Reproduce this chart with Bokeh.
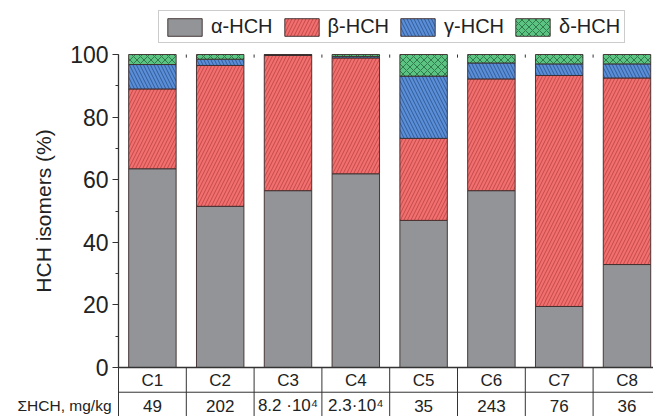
from bokeh.plotting import figure
from bokeh.models import (ColumnDataSource, LinearAxis, SingleIntervalTicker, Range1d)
from bokeh.embed import file_html
from bokeh.resources import INLINE
from bokeh.core.properties import value

# ---- data ----
categories = ["C1", "C2", "C3", "C4", "C5", "C6", "C7", "C8"]
alpha = [63.5, 51.5, 56.5, 61.9, 47.0, 56.5, 19.5, 32.9]
beta = [25.5, 45.0, 43.2, 37.0, 26.2, 35.7, 73.8, 59.6]
gamma = [7.8, 2.0, 0.15, 0.5, 19.9, 5.1, 3.7, 4.5]
delta = [3.2, 1.5, 0.15, 0.6, 6.9, 2.7, 3.0, 3.0]
sum_hch = ["49", "202", "8.2 \u00b710\u2074", "2.3\u00b710\u2074", "35", "243", "76", "36"]
sum_label = "\u03a3HCH, mg/kg"
series_names = ["\u03b1-HCH", "\u03b2-HCH", "\u03b3-HCH", "\u03b4-HCH"]
y_ticks_interval = 20

FONT = "Liberation Sans"
n = len(categories)
xs = list(range(1, n + 1))

src = ColumnDataSource(dict(x=xs, a=alpha, b=beta, g=gamma, d=delta))

PX_X = 67.8
PX_Y = 3.13
LEFT = 118
p = figure(width=653, height=416, output_backend="svg", toolbar_location=None,
           x_axis_location=None, y_axis_location=None,
           x_range=Range1d(0.5 - LEFT / PX_X, 0.5 + (653 - LEFT) / PX_X),
           y_range=Range1d(-49 / PX_Y, 367 / PX_Y),
           min_border=0)
p.outline_line_color = None
p.xgrid.visible = False
p.ygrid.visible = False
p.background_fill_color = "white"
p.border_fill_color = "white"

fills = ["#929497", "#f26f6f", "#5a8ed8", "#5cc483"]

p.vbar_stack(["a", "b", "g", "d"], x="x", width=0.70, source=src,
             fill_color=fills, line_color="#3a2a2a", line_width=0.9,
             hatch_pattern=[" ", "/", "\\", "x"],
             hatch_color=["#929497", "#b03a3a", "#23477a", "#1f5f35"],
             hatch_scale=7, hatch_weight=0.9, hatch_alpha=0.8,
             legend_label=series_names)

# y axis, pinned at the left table border
yax = LinearAxis(bounds=(0, 100), fixed_location=0.5,
                 ticker=SingleIntervalTicker(interval=y_ticks_interval, num_minor_ticks=2))
yax.axis_label = "HCH isomers (%)"
yax.axis_label_text_font = FONT
yax.axis_label_text_font_size = "21px"
yax.axis_label_text_font_style = "normal"
yax.axis_label_text_color = "#222222"
yax.axis_label_standoff = 12
yax.major_label_text_font = FONT
yax.major_label_text_font_size = "23px"
yax.major_label_text_color = "#222222"
yax.major_label_standoff = 4
yax.major_tick_out = 6
yax.major_tick_in = 0
yax.minor_tick_out = 3
yax.minor_tick_in = 0
yax.axis_line_width = 1.3
yax.axis_line_color = "#333333"
yax.major_tick_line_color = "#333333"
yax.minor_tick_line_color = "#333333"
p.add_layout(yax, "left")

# x axis line / table borders
bounds = [i + 0.5 for i in range(n + 1)]
p.segment(x0=[0.5], y0=[0], x1=[n + 0.5], y1=[0], line_color="#333333", line_width=1.3)
p.segment(x0=[0.5], y0=[-7.9], x1=[n + 0.5], y1=[-7.9], line_color="#333333", line_width=1)
p.segment(x0=bounds, y0=[0] * len(bounds), x1=bounds, y1=[-16] * len(bounds),
          line_color="#333333", line_width=1)
# top ticks
p.segment(x0=bounds[1:-1], y0=[100] * (n - 1), x1=bounds[1:-1], y1=[99] * (n - 1),
          line_color="#333333", line_width=1)

p.text(x=xs, y=[-4.1] * n, text=categories, text_font=value(FONT), text_font_size="17px",
       text_align="center", text_baseline="middle", text_color="#222222")
p.text(x=xs, y=[-12.2] * n, text=sum_hch, text_font=value(FONT), text_font_size="17px",
       text_align="center", text_baseline="middle", text_color="#222222")
p.text(x=[0.5], y=[-12.2], text=[sum_label], x_offset=-7, text_font=value(FONT),
       text_font_size="15.5px", text_align="right", text_baseline="middle", text_color="#222222")

leg = p.legend[0]
leg.orientation = "horizontal"
leg.location = (LEFT + 40, 373)
leg.label_text_font = FONT
leg.label_text_font_size = "20px"
leg.label_text_color = "#222222"
leg.glyph_width = 43
leg.glyph_height = 22
leg.label_standoff = 5
leg.spacing = 7
leg.padding = 4
leg.margin = 0
leg.border_line_color = "#999999"
leg.border_line_width = 1
leg.background_fill_alpha = 1

open("out.html", "w").write(file_html(p, INLINE))
